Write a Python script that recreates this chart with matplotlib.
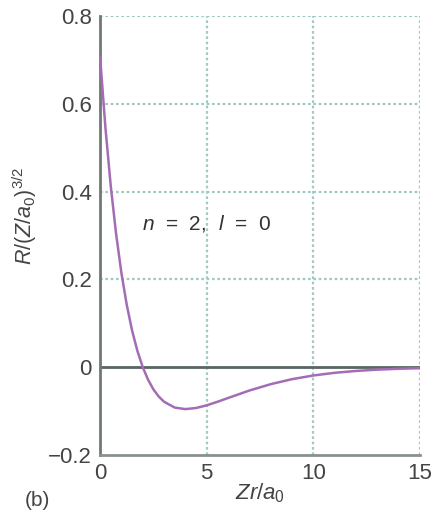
import matplotlib
matplotlib.use("Agg")
import matplotlib.pyplot as plt

# Data (Zr/a0 vs R/(Z/a0)^{3/2})
zr = [0, 0.25, 0.5, 0.75, 1.0, 1.25, 1.5, 1.75, 2.0, 2.25, 2.5, 2.75, 3.0, 3.5,
      4.0, 4.5, 5.0, 5.5, 6, 7, 8, 9, 10, 11, 12, 13, 14, 15]
R = [0.707, 0.546, 0.413, 0.304, 0.2145, 0.142, 0.0835, 0.0369, 0.0, -0.0287,
     -0.0507, -0.0670, -0.0789, -0.0922, -0.0957, -0.0932, -0.0871, -0.0791,
     -0.0704, -0.0534, -0.0389, -0.0275, -0.0191, -0.0130, -0.0088, -0.0058,
     -0.0038, -0.0025]
xticks = [0, 5, 10, 15]
xtick_labels = ["0", "5", "10", "15"]
yticks = [-0.2, 0, 0.2, 0.4, 0.6, 0.8]
ytick_labels = ["\u22120.2", "0", "0.2", "0.4", "0.6", "0.8"]

plt.rcParams['font.family'] = ['Liberation Sans', 'DejaVu Sans']
plt.rcParams['mathtext.fontset'] = 'custom'
plt.rcParams['mathtext.rm'] = 'Liberation Sans'
plt.rcParams['mathtext.it'] = 'Liberation Sans:italic'

fig = plt.figure(figsize=(4.37, 5.14), dpi=100)
ax = fig.add_axes([0.229, 0.115, 0.732, 0.854])

grid_c = '#9fcac6'
for x in [5, 10, 15]:
    ax.axvline(x, color=grid_c, lw=1.6, ls=(0, (1.2, 1.2)), zorder=1)
for y in [0.2, 0.4, 0.6, 0.8]:
    ax.axhline(y, color=grid_c, lw=1.6, ls=(0, (1.2, 1.2)), zorder=1)

ax.axhline(0, color='#5a6464', lw=2.0, zorder=2)
ax.plot(zr, R, color='#a46cb4', lw=1.8, zorder=3)

ax.set_xlim(0, 15)
ax.set_ylim(-0.2, 0.8)
for s in ['top', 'right']:
    ax.spines[s].set_visible(False)
ax.spines['left'].set_color('#707878')
ax.spines['left'].set_linewidth(2.0)
ax.spines['bottom'].set_color('#8a9090')
ax.spines['bottom'].set_linewidth(2.0)

ax.set_xticks(xticks)
ax.set_xticklabels(xtick_labels)
ax.set_yticks(yticks)
ax.set_yticklabels(ytick_labels)
ax.tick_params(length=0, labelsize=16, colors='#444444', pad=6)

ax.set_xlabel(r'$Zr/a_0$', fontsize=16, color='#444444', labelpad=-2)
ax.set_ylabel(r'$R/(Z/a_0)^{3/2}$', fontsize=15.5, color='#444444')
ax.yaxis.set_label_coords(-0.19, 0.545)

ax.text(1.95, 0.328, r'$n$  =  2,  $l$  =  0', fontsize=15, color='#333333',
        va='center', ha='left', zorder=4)
fig.text(0.057, 0.027, '(b)', fontsize=15, color='#444444', va='center')

fig.savefig('out.png', dpi=100)
